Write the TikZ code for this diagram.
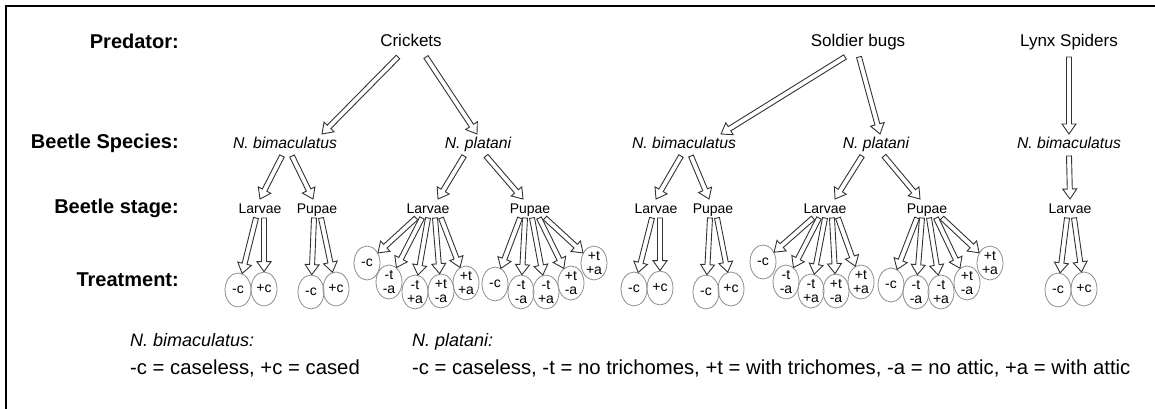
\documentclass[tikz,border=0pt]{standalone}
\usepackage{fontspec}
\setmainfont{Liberation Sans}
\usetikzlibrary{shapes.geometric,calc}

% sizes of the hollow block arrows
\newcommand{\arrshaft}{2.5pt}
\newcommand{\arrhead}{7pt}
\newcommand{\arrlen}{10pt}
% hollow arrow from #1 to #2
\newcommand{\hollowarrow}[2]{%
	\path #1 -- #2 coordinate[pos=0] (ha-s) coordinate[pos=1] (ha-e);
	\coordinate (ha-m) at ($(ha-e)!\arrlen!(ha-s)$);
	\filldraw[harrow] ($(ha-s)!\arrshaft!90:(ha-e)$) -- ($(ha-m)!\arrshaft!-90:(ha-s)$)
		-- ($(ha-m)!\arrhead!-90:(ha-s)$) -- (ha-e) -- ($(ha-m)!\arrhead!90:(ha-s)$)
		-- ($(ha-m)!\arrshaft!90:(ha-s)$) -- ($(ha-s)!\arrshaft!-90:(ha-e)$) -- cycle;}

\tikzset{
	rowlabel/.style={font=\fontsize{20}{22}\selectfont\bfseries, anchor=base east, inner sep=1pt},
	predator/.style={font=\fontsize{17}{19}\selectfont, anchor=base, inner sep=1.5pt},
	species/.style={font=\fontsize{15.7}{18}\selectfont\itshape, anchor=base, inner sep=1.5pt},
	stage/.style={font=\fontsize{14}{16}\selectfont, anchor=base, inner sep=1.5pt},
	treat/.style={ellipse, draw=black!45, line width=0.8pt, minimum width=26pt, minimum height=34pt,
		inner sep=0pt, align=center, font=\fontsize{14}{13.5}\selectfont},
	legit/.style={font=\fontsize{18}{22}\selectfont\itshape, anchor=base west, inner sep=0pt},
	legtx/.style={font=\fontsize{20.3}{22}\selectfont, anchor=base west, inner sep=0pt},
	harrow/.style={draw=black!80, fill=white, line width=0.9pt},
}

\begin{document}
\begin{tikzpicture}[x=1pt, y=-1pt]
	\useasboundingbox (0,0) rectangle (1155,409);
	% frame, only its top and left edges are inside
	\draw[line width=2.5pt] (6,409) -- (6,6) -- (1155,6);

	\node[rowlabel] (lpred) at (180,49) {Predator:};
	\node[rowlabel] (lspec) at (180,148) {Beetle Species:};
	\node[rowlabel] (lstage) at (180,213) {Beetle stage:};
	\node[rowlabel] (ltreat) at (180,286) {Treatment:};

	\node[predator] (crk) at (411,47) {Crickets};
	\node[predator] (sol) at (858,47) {Soldier bugs};
	\node[predator] (lyn) at (1069,47) {Lynx Spiders};

	\node[species] (bim1) at (285,148) {N. bimaculatus};
	\node[species] (pla1) at (478,148) {N. platani};
	\node[species] (bim2) at (684,148) {N. bimaculatus};
	\node[species] (pla2) at (876,148) {N. platani};
	\node[species] (bim3) at (1069,148) {N. bimaculatus};

	\foreach \nm/\x in {lar1/260, lar2/428, lar3/656, lar4/825, lar5/1070}
		\node[stage] (\nm) at (\x,213) {Larvae};
	\foreach \nm/\x in {pup1/317, pup2/530, pup3/713, pup4/927}
		\node[stage] (\nm) at (\x,213) {Pupae};

	\foreach \nm/\x/\y/\lbl in {t1a/238/290/-c, t1b/264/289/+c, t2a/311/292/-c, t2b/336/289/+c,
		t3a/367/263/-c, t3b/389/282/{-t\\-a}, t3c/415/292/{-t\\+a}, t3d/441/291/{+t\\-a}, t3e/466/283/{+t\\+a},
		t4a/495/284/-c, t4b/521/292/{-t\\-a}, t4c/546/292/{-t\\+a}, t4d/571/283/{+t\\-a}, t4e/594/263/{+t\\+a},
		t5a/634/289/-c, t5b/660/288/+c, t6a/706/292/-c, t6b/731/289/+c,
		t7a/763/262/-c, t7b/786/282/{-t\\-a}, t7c/811/291/{-t\\+a}, t7d/836/291/{+t\\-a}, t7e/861/282/{+t\\+a},
		t8a/891/285/-c, t8b/916/292/{-t\\-a}, t8c/941/292/{-t\\+a}, t8d/967/283/{+t\\-a}, t8e/990/263/{+t\\+a},
		t9a/1058/290/-c, t9b/1084/289/+c}
		\node[treat] (\nm) at (\x,\y) {\lbl};

	% predator -> species
	\hollowarrow{($(crk.base)+(-13,10)$)}{($(bim1.base)+(37,-14)$)}
	\hollowarrow{($(crk.base)+(15,10)$)}{($(pla1.base)+(-1,-14)$)}
	\hollowarrow{($(sol.base)+(-13,10)$)}{($(bim2.base)+(37,-14)$)}
	\hollowarrow{($(sol.base)+(1,10)$)}{($(pla2.base)+(4,-14)$)}
	\hollowarrow{($(lyn.base)+(0,10)$)}{($(bim3.base)+(0,-14)$)}

	% species -> stage
	\foreach \sp/\sx/\st/\ex in {bim1/-3/lar1/0, bim1/7/pup1/-4, pla1/-14/lar2/10, pla1/8/pup2/-7,
		bim2/-3/lar3/0, bim2/7/pup3/-4, pla2/-14/lar4/10, pla2/8/pup4/-7, bim3/0/lar5/0}
		\hollowarrow{($(\sp.base)+(\sx,8)$)}{($(\st.base)+(\ex,-14)$)};

	% stage -> treatment
	\foreach \st/\sx/\tr in {lar1/-4/t1a, lar1/4/t1b, pup1/-3/t2a, pup1/4/t2b,
		lar2/-12/t3a, lar2/-6/t3b, lar2/0/t3c, lar2/7/t3d, lar2/13/t3e,
		pup2/-10/t4a, pup2/-5/t4b, pup2/2/t4c, pup2/9/t4d, pup2/15/t4e,
		lar3/-4/t5a, lar3/4/t5b, pup3/-3/t6a, pup3/4/t6b,
		lar4/-12/t7a, lar4/-6/t7b, lar4/0/t7c, lar4/7/t7d, lar4/13/t7e,
		pup4/-10/t8a, pup4/-5/t8b, pup4/2/t8c, pup4/9/t8d, pup4/15/t8e,
		lar5/-3/t9a, lar5/4/t9b}
		\hollowarrow{($(\st.base)+(\sx,5)$)}{(\tr)};

	% key
	\node[legit] (kbim) at (130,346) {N. bimaculatus:};
	\node[legtx] (kbimt) at (130,374) {-c = caseless, +c = cased};
	\node[legit] (kpla) at (412,346) {N. platani:};
	\node[legtx] (kplat) at (412,374) {-c = caseless, -t = no trichomes, +t = with trichomes, -a = no attic, +a = with attic};
\end{tikzpicture}
\end{document}
